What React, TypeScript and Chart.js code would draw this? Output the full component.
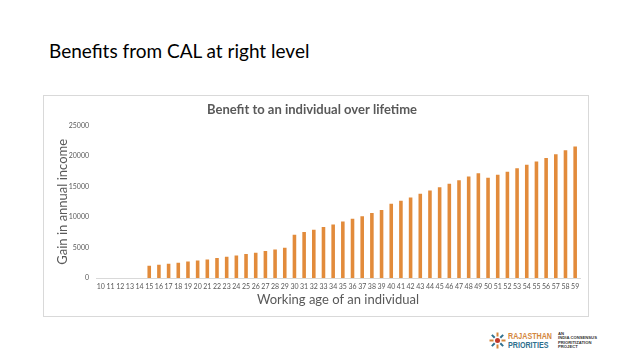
import React, { useEffect, useRef } from "react";
import { Chart, registerables } from "chart.js";

Chart.register(...registerables);

const ages: string[] = [];
for (let a = 10; a <= 59; a++) ages.push(String(a));

const benefit: number[] = [
  0, 0, 0, 0, 0,
  2020, 2180, 2340, 2500, 2720, 2880, 3050, 3280, 3490, 3700, 3930, 4140, 4420, 4680, 4960,
  7090, 7530, 7900, 8350, 8780, 9270, 9710, 10150, 10650, 11140,
  12170, 12660, 13200, 13810, 14350, 14900, 15450, 16050, 16640, 17200,
  16430, 16920, 17410, 18020, 18560, 19100, 19700, 20310, 20970, 21560,
];

const slideTitle = "Benefits from CAL at right level";
const chartTitle = "Benefit to an individual over lifetime";
const xTitle = "Working age of an individual";
const yTitle = "Gain in annual income";

const FONT = "Lato, 'Open Sans', sans-serif";
const GREY = "#595959";
const BAR = "#E28B3B";

export default function App() {
  const ref = useRef<HTMLCanvasElement | null>(null);

  useEffect(() => {
    if (!ref.current) return;
    const chart = new Chart(ref.current, {
      type: "bar",
      data: {
        labels: ages,
        datasets: [
          {
            data: benefit,
            backgroundColor: BAR,
            borderWidth: 0,
            barPercentage: 0.37,
            categoryPercentage: 1,
          },
        ],
      },
      options: {
        animation: false,
        responsive: false,
        maintainAspectRatio: false,
        layout: { padding: { top: 0, right: 8, bottom: 0, left: 0 } },
        plugins: {
          legend: { display: false },
          tooltip: { enabled: false },
          title: {
            display: true,
            text: chartTitle,
            color: GREY,
            font: { family: FONT, size: 13, weight: "bold" },
            padding: { top: 6, bottom: 8 },
          },
        },
        scales: {
          x: {
            grid: { display: false, drawTicks: false },
            border: { display: true, color: "#d9d9d9" },
            ticks: {
              color: GREY,
              font: { family: FONT, size: 7 },
              autoSkip: false,
              maxRotation: 0,
              minRotation: 0,
              padding: 5,
            },
            title: {
              display: true,
              text: xTitle,
              color: GREY,
              font: { family: FONT, size: 13 },
              padding: { top: 2, bottom: 8 },
            },
            afterFit: (s: any) => {
              s.height = 38;
            },
          },
          y: {
            min: 0,
            max: 25000,
            grid: { display: false, drawTicks: false },
            border: { display: false },
            ticks: {
              stepSize: 5000,
              color: GREY,
              font: { family: FONT, size: 7 },
              padding: 7,
              callback: (v: any) => String(v),
            },
            title: {
              display: true,
              text: yTitle,
              color: GREY,
              font: { family: FONT, size: 13 },
              padding: { top: 11, bottom: 0 },
            },
            afterFit: (s: any) => {
              s.width = 52;
            },
          },
        },
      },
    });
    return () => chart.destroy();
  }, []);

  return (
    <div
      style={{
        position: "fixed",
        left: 0,
        top: 0,
        width: 638,
        height: 359,
        background: "#fff",
        overflow: "hidden",
        fontFamily: FONT,
      }}
    >
      <div
        style={{
          position: "absolute",
          left: 49,
          top: 39,
          fontSize: 19,
          color: "#000",
          whiteSpace: "nowrap",
          lineHeight: "24px",
        }}
      >
        {slideTitle}
      </div>
      <div
        style={{
          position: "absolute",
          left: 43,
          top: 95,
          width: 544,
          height: 220,
          border: "1px solid #d9d9d9",
        }}
      >
        <canvas ref={ref} width={544} height={220} style={{ display: "block" }} />
      </div>
      <svg
        style={{ position: "absolute", left: 489, top: 332 }}
        width={17}
        height={17}
        viewBox="0 0 17 17"
      >
        {Array.from({ length: 8 }).map((_, i) => {
          const a = (i * Math.PI) / 4;
          return (
            <line
              key={i}
              x1={8.5 + Math.cos(a) * 4}
              y1={8.5 + Math.sin(a) * 4}
              x2={8.5 + Math.cos(a) * 8}
              y2={8.5 + Math.sin(a) * 8}
              stroke={i % 2 ? "#2E6F8E" : "#D4873C"}
              strokeWidth={2}
            />
          );
        })}
        <circle cx={8.5} cy={8.5} r={2.5} fill="#C0392B" />
      </svg>
      <div
        style={{
          position: "absolute",
          left: 508,
          top: 331,
          fontSize: 9.5,
          fontWeight: "bold",
          lineHeight: "9px",
          fontFamily: "'Liberation Sans', sans-serif",
          transform: "scaleX(0.75)",
          transformOrigin: "left top",
          whiteSpace: "nowrap",
        }}
      >
        <div style={{ color: "#D4873C" }}>RAJASTHAN</div>
        <div style={{ color: "#2E6F8E" }}>PRIORITIES</div>
      </div>
      <div
        style={{
          position: "absolute",
          left: 558,
          top: 332,
          fontSize: 4.2,
          fontWeight: "bold",
          lineHeight: "4.3px",
          color: "#333",
          fontFamily: "'Liberation Sans', sans-serif",
          whiteSpace: "nowrap",
        }}
      >
        <div>AN</div>
        <div>INDIA CONSENSUS</div>
        <div>PRIORITIZATION</div>
        <div>PROJECT</div>
      </div>
    </div>
  );
}
